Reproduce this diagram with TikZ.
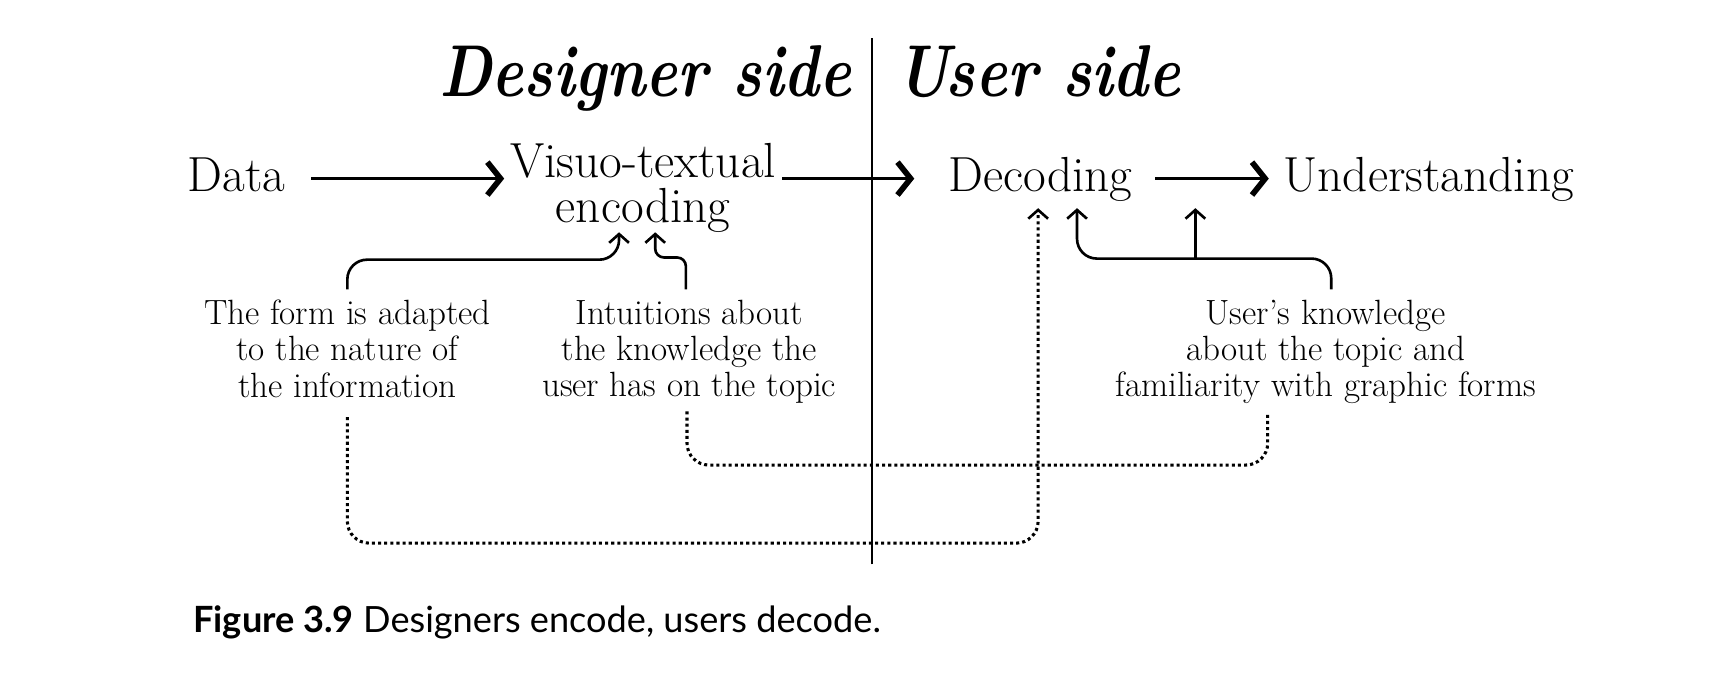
\documentclass[tikz,border=0pt]{standalone}
\usepackage{fontspec}
\newfontfamily\capfont{Lato}
\usepackage{tikz}
\usetikzlibrary{arrows.meta, positioning, calc}

\tikzset{
    word/.style={inner sep=0pt, outer sep=0pt, font=\fontsize{22.5}{19}\selectfont, text height=16pt, text depth=4pt},
    note/.style={inner sep=0pt, outer sep=0pt, align=center, font=\fontsize{16}{16.5}\selectfont},
    heading/.style={inner sep=0pt, outer sep=0pt, font=\fontsize{33.5}{36}\selectfont\bfseries\itshape},
    mainarrow/.style={line width=1.2pt, -{Straight Barb[length=6pt, width=15pt, line width=2.6pt]}},
    link/.style={line width=1.2pt, rounded corners=9pt, -{Straight Barb[length=4pt, width=9pt, line width=1.2pt]}},
    hint/.style={line width=1.4pt, dash pattern=on 1.4pt off 1.4pt, rounded corners=10pt},
}

\begin{document}
\begin{tikzpicture}[x=0.5pt, y=0.5pt]
            \useasboundingbox (0,0) rectangle (1568,633);

            \node[heading, anchor=base east] (designer) at (777,545) {\scalebox{0.82}[1]{Designer side}};
            \node[heading, anchor=base west] (user) at (818,545) {\scalebox{0.82}[1]{User side}};
            \draw[line width=1pt] (796,118) -- (796,598);

            \node[word, anchor=base] (data) at (216,458) {Data};
            \node[inner sep=0pt, outer sep=0pt, align=center, font=\fontsize{22.5}{20.5}\selectfont, anchor=south] (visuo) at (587,421) {Visuo-textual\\encoding};
            \node[word, anchor=base] (decoding) at (949.5,458) {Decoding};
            \node[word, anchor=base] (understanding) at (1304,458) {Understanding};

            \draw[mainarrow, shorten <=11.75pt, shorten >=2.75pt] (data) -- (data -| visuo.west);
            \draw[mainarrow, shorten <=2.75pt, shorten >=15.5pt] (data -| visuo.east) -- (decoding);
            \draw[mainarrow, shorten <=10.5pt, shorten >=6.75pt] (decoding) -- (understanding);

            \node[note, anchor=north] (form) at (317,359) {The form is adapted\\to the nature of\\the information};
            \node[note, anchor=north] (intuit) at (629,359) {Intuitions about\\the knowledge the\\user has on the topic};
            \node[note, anchor=north] (know) at (1210,359) {User's knowledge\\about the topic and\\familiarity with graphic forms};

            \draw[link] ([yshift=5pt]form.north) -- ++(0,27) -| ([xshift=-11pt]visuo.south);
            \draw[link, rounded corners=4pt] ([shift={(-1.5pt,5pt)}]intuit.north) -- ++(0,29) -| ([xshift=5.5pt]visuo.south);
            \draw[link] ([shift={(2.5pt,5pt)}]know.north) -- ++(0,28) -| ([shift={(16.75pt,-3.5pt)}]decoding.south);
            \coordinate (merge) at (1091,397);
            \draw[link] (merge) -- ++(0,46);

            \draw[hint, -{Straight Barb[length=4pt, width=9pt, line width=1.2pt]}] ([yshift=-9pt]form.south) -- ++(0,-115) -| ([shift={(-1pt,-3.5pt)}]decoding.south);
            \draw[hint] ([shift={(-1pt,-3.5pt)}]intuit.south) -- ++(0,-49) -| ([shift={(-26.5pt,-4.5pt)}]know.south);

            \node[anchor=base west, inner sep=0pt, font=\capfont\fontsize{16.5}{18}\selectfont] (caption) at (176,56) {\textbf{Figure 3.9} Designers encode, users decode.};
\end{tikzpicture}
\end{document}
